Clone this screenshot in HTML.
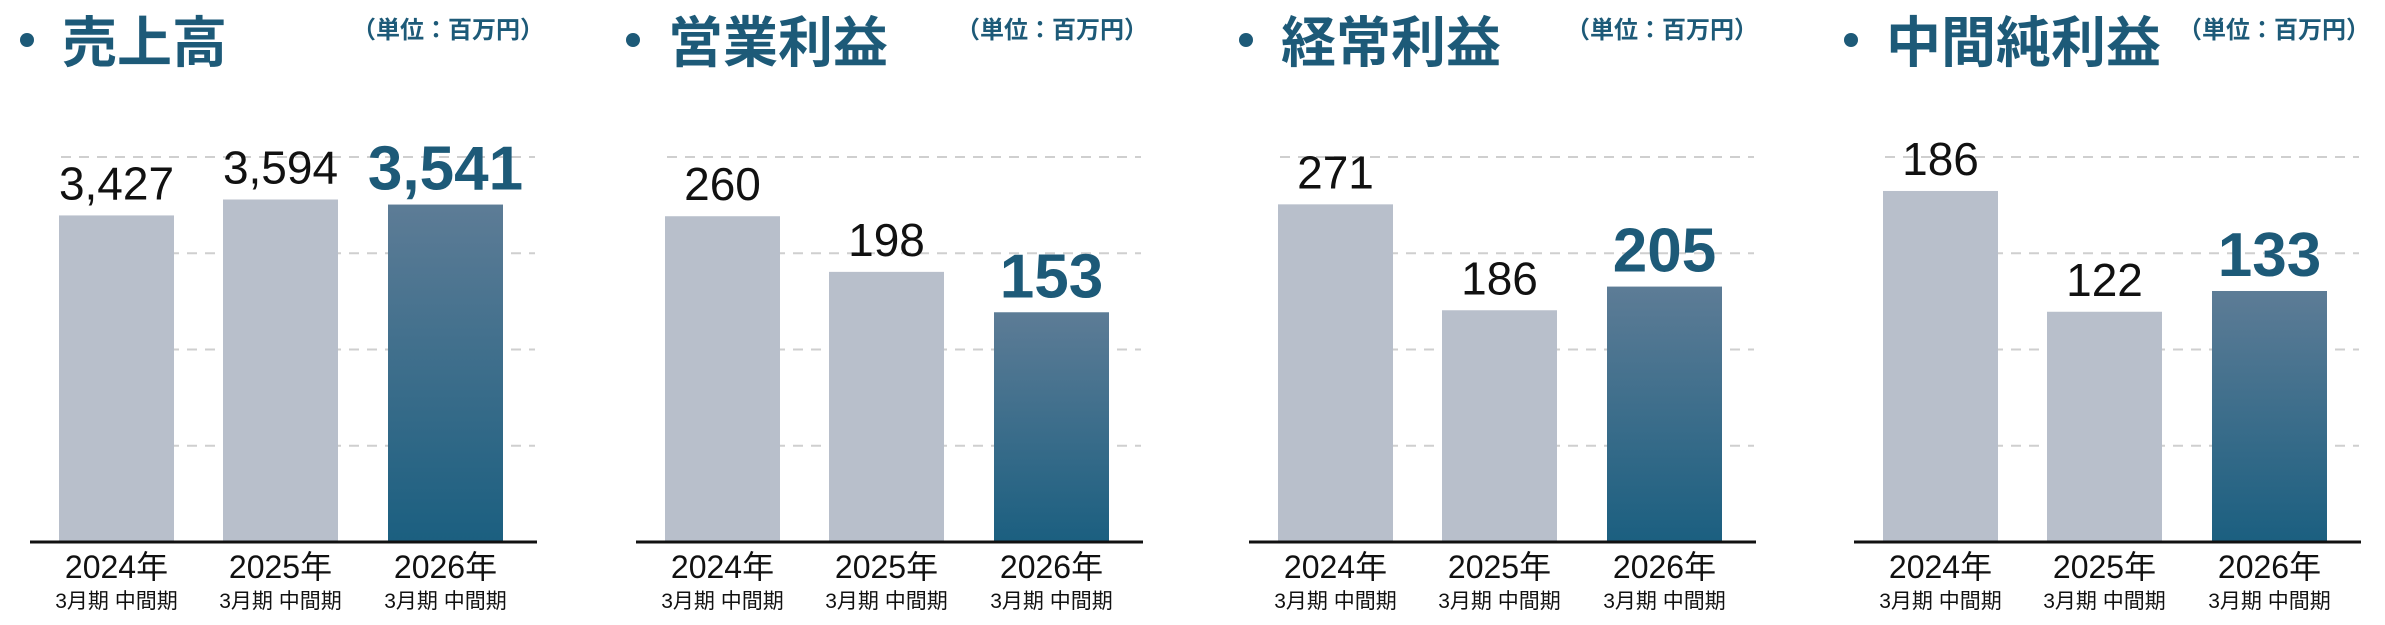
<!DOCTYPE html>
<html><head><meta charset="utf-8"><style>
html,body{margin:0;padding:0;background:#fff;}
svg{display:block;}
text{font-family:"Liberation Sans","Noto Sans CJK JP",sans-serif;}
</style></head><body>
<svg id="c" width="2385" height="625" viewBox="0 0 2385 625" xmlns="http://www.w3.org/2000/svg">
<defs><linearGradient id="hg" x1="0" y1="0" x2="0" y2="1"><stop offset="0" stop-color="#5d7c96"/><stop offset="1" stop-color="#1b5f80"/></linearGradient></defs>
</svg>
<script>
const titles = ["売上高","営業利益","経常利益","中間純利益"];
const categories = ["2024年","2025年","2026年"];
const subLabel = "3月期 中間期";
const salesValues = [3427, 3594, 3541];
const opProfitValues = [260, 198, 153];
const ordProfitValues = [271, 186, 205];
const netProfitValues = [186, 122, 133];
const valueLabels = [["3,427","3,594","3,541"],["260","198","153"],["271","186","205"],["186","122","133"]];
const yMins = [0, -103, 0, 0];
const yMaxs = [4040, 326, 309, 204];
const series = [salesValues, opProfitValues, ordProfitValues, netProfitValues];

const svg = document.getElementById('c');
const NS = "http://www.w3.org/2000/svg";
function mk(tag, attrs, parent){ const e=document.createElementNS(NS,tag); for(const k in attrs) e.setAttribute(k,attrs[k]); (parent||svg).appendChild(e); return e; }
const offsets = [0, 606, 1219, 1824];
const axisY = 542, topY = 157;
const barX = [59, 223, 388], barW = 115;
const unitX = [352, 956, 1566, 2178];

for (let p=0;p<4;p++){
  const o = offsets[p];
  const g = mk('g',{});
  
  
  const yScale = v => axisY - (v - yMins[p]) / (yMaxs[p] - yMins[p]) * (axisY - topY);
  const b = mk('circle',{cx:o+27,cy:40,r:7,fill:'#1d5a78'},g);
  
  
  const t = mk('text',{x:o+(p===3?62:62),y:62,'font-size':55,'font-weight':'bold',fill:'#1d5a78'},g);
  t.textContent = titles[p];
  
  
  const u = mk('text',{x:unitX[p],y:38,'font-size':24,'font-weight':'bold',fill:'#1d5a78'},g);
  u.textContent = "（単位：百万円）";
  
  
  for (let i=0;i<4;i++){
    const gy = topY + i*(axisY-topY)/4;
    const gl = mk('line',{x1:o+61,x2:o+535,y1:gy,y2:gy,stroke:'#cfcfcf','stroke-width':2,'stroke-dasharray':'10 8'},g);
    
    
  }
  series[p].forEach((v,i)=>{
    const y = yScale(v);
    const hl = i===2;
    const r = mk('rect',{x:o+barX[i],y:y,width:barW,height:axisY-y,fill:hl?'url(#hg)':'#b8bfcb'},g);
    
    
    const lt = mk('text',{x:o+barX[i]+barW/2,y:y-(hl?15:16),'text-anchor':'middle','font-size':hl?62:46,'font-weight':hl?'bold':'normal',fill:hl?'#1d5a78':'#111'},g);
    lt.textContent = valueLabels[p][i];
    
    
    const xl = mk('text',{x:o+barX[i]+barW/2,y:578,'text-anchor':'middle','font-size':32,fill:'#111'},g);
    xl.textContent = categories[i];
    
    
    const sl = mk('text',{x:o+barX[i]+barW/2,y:608,'text-anchor':'middle','font-size':21,fill:'#111'},g);
    sl.textContent = subLabel;
    
    
  });
  const ax = mk('line',{x1:o+30,x2:o+537,y1:axisY,y2:axisY,stroke:'#111','stroke-width':3},g);
  
  
}
</script>
</body></html>
